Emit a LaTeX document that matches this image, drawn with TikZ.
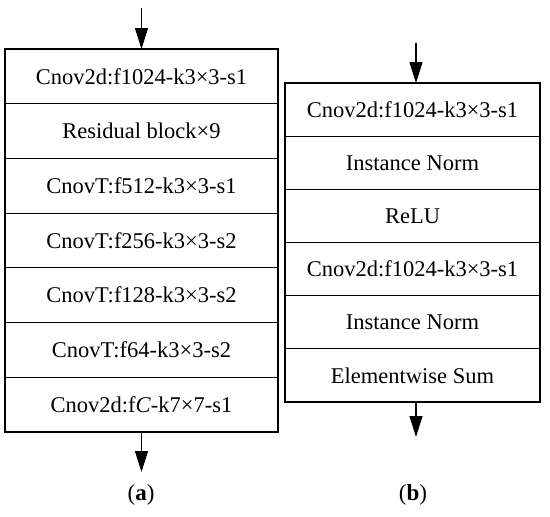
\documentclass[tikz,border=0pt]{standalone}
\usepackage{fontspec}
\setmainfont{Liberation Serif}
\usetikzlibrary{arrows.meta}
\begin{document}
\begin{tikzpicture}[x=1pt,y=-1pt,
  layerbox/.style={draw, line width=1.2pt, inner sep=0pt, outer sep=0pt, anchor=north,
    font=\fontsize{22.5}{27}\selectfont},
  lrow/.style={layerbox, minimum width=273pt, minimum height=54.71pt},
  rrow/.style={layerbox, minimum width=255pt, minimum height=53.17pt},
  flow/.style={line width=1.2pt, -{Triangle[length=21pt,width=13pt]}},
  caption/.style={font=\fontsize{23}{27}\selectfont}]
\useasboundingbox (0,0) rectangle (550,517);
% left column (a)
\node[lrow] (l1) at (141.5,49) {Cnov2d:f1024-k3×3-s1};
\node[lrow] (l2) at (141.5,103.71) {Residual block×9};
\node[lrow] (l3) at (141.5,158.43) {CnovT:f512-k3×3-s1};
\node[lrow] (l4) at (141.5,213.14) {CnovT:f256-k3×3-s2};
\node[lrow] (l5) at (141.5,267.86) {CnovT:f128-k3×3-s2};
\node[lrow] (l6) at (141.5,322.57) {CnovT:f64-k3×3-s2};
\node[lrow] (l7) at (141.5,377.29) {Cnov2d:f\textit{C}-k7×7-s1};
\coordinate (lin) at (141.5,8);
\coordinate (lout) at (141.5,472);
\draw[flow] (lin) -- (l1.north);
\draw[flow] (l7.south) -- (lout);
\node[caption] (ca) at (141,495) {(\textbf{a})};
% right column (b)
\node[rrow] (r1) at (412.5,83) {Cnov2d:f1024-k3×3-s1};
\node[rrow] (r2) at (412.5,136.17) {Instance Norm};
\node[rrow] (r3) at (412.5,189.33) {ReLU};
\node[rrow] (r4) at (412.5,242.5) {Cnov2d:f1024-k3×3-s1};
\node[rrow] (r5) at (412.5,295.67) {Instance Norm};
\node[rrow] (r6) at (412.5,348.83) {Elementwise Sum};
\coordinate (rin) at (416,43);
\coordinate (rout) at (416,437);
\draw[flow] (rin) -- (rin |- r1.north);
\draw[flow] (rout |- r6.south) -- (rout);
\node[caption] (cb) at (413,495) {(\textbf{b})};
\end{tikzpicture}
\end{document}
